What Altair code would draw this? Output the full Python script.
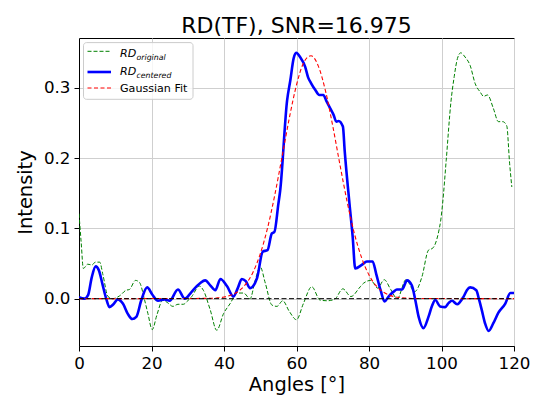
import altair as alt
import pandas as pd

# ---- data ----
blue_angles = [0, 1.5, 2.5, 3.5, 4.6, 5.5, 6.5, 7.5, 8.4, 9.5, 10.7, 12.1, 13.5, 14.7, 15.8, 17.2,
               18.8, 20.2, 21.8, 23.6, 25.0, 27.3, 29.2, 30.5, 31.6, 33.4, 34.8, 36.2, 37.6, 39.0,
               40.8, 42.6, 43.8, 44.9, 46.0, 47.2, 49.1, 50.7, 52.0, 53.2, 53.9, 55.0, 55.5, 57.4,
               58.3, 59.2, 59.9, 61.0, 62.4, 63.2, 64.0, 65.2, 66.3, 67.4, 68.3, 69.3, 70.2, 71.0,
               71.6, 72.8, 73.3, 74.6, 75.5, 76.2, 78.0, 79.4, 81.0, 82.0, 83.2, 84.3, 85.4, 86.8,
               87.7, 89.1, 90.5, 91.8, 92.7, 93.7, 95.0, 96.4, 97.4, 98.3, 99.6, 101.0, 102.0,
               102.9, 104.3, 106.1, 107.0, 107.9, 109.6, 110.3, 111.1, 112.0, 113.0, 114.3, 115.7,
               117.6, 119.0, 120.0]
blue_values = [0.002, 0.000, 0.005, 0.030, 0.046, 0.040, 0.020, 0.000, -0.012, -0.008, -0.001,
               -0.007, -0.022, -0.029, -0.026, -0.002, 0.016, 0.006, -0.003, -0.001, -0.003, 0.013,
               0.000, 0.006, 0.013, 0.022, 0.026, 0.019, 0.012, 0.028, 0.018, 0.003, 0.015, 0.028,
               0.025, 0.015, 0.029, 0.067, 0.069, 0.093, 0.095, 0.135, 0.154, 0.282, 0.311, 0.342,
               0.350, 0.344, 0.330, 0.315, 0.307, 0.297, 0.290, 0.290, 0.281, 0.271, 0.262, 0.252,
               0.253, 0.245, 0.210, 0.136, 0.088, 0.043, 0.048, 0.053, 0.053, 0.035, 0.012, -0.004,
               0.003, 0.010, 0.013, 0.013, 0.026, 0.019, 0.000, -0.026, -0.042, -0.026, -0.010,
               -0.002, -0.011, -0.012, -0.006, -0.003, -0.008, 0.003, 0.012, 0.016, 0.012, 0.000,
               -0.016, -0.035, -0.046, -0.035, -0.020, -0.007, 0.008, 0.008]

green_angles = [0, 0.6, 1.2, 2.4, 3.6, 4.5, 5.7, 6.6, 8.0, 9.3, 11.2, 13.0, 13.9, 15.6, 16.7, 18.1,
                19.0, 20.2, 21.5, 23.1, 24.5, 25.9, 27.3, 28.8, 29.8, 31.1, 33.2, 34.3, 36.2, 38.0,
                39.9, 41.7, 43.6, 45.4, 47.2, 48.6, 50.0, 51.4, 53.2, 54.6, 56.2, 58.0, 60.0, 61.9,
                64.2, 66.5, 68.4, 70.5, 72.8, 75.0, 77.6, 78.5, 80.5, 82.4, 84.2, 86.0, 87.8, 90.2,
                92.6, 94.6, 96.4, 97.6, 99.2, 99.8, 100.3, 101.3, 102.6, 103.5, 104.4, 105.3, 106.5,
                107.9, 109.3, 110.7, 111.6, 112.7, 114.3, 115.7, 116.9, 118.0, 118.8, 119.4]
green_values = [0.121, 0.080, 0.043, 0.049, 0.048, 0.052, 0.052, 0.034, 0.003, 0.000, 0.004, 0.012,
                0.013, 0.026, 0.023, -0.002, -0.021, -0.044, -0.023, -0.002, -0.006, -0.011, -0.008,
                -0.008, -0.004, 0.003, 0.018, 0.012, -0.016, -0.045, -0.021, -0.007, 0.008, 0.008,
                0.000, 0.026, 0.045, 0.022, -0.009, -0.011, -0.003, -0.018, -0.030, -0.007, 0.017,
                -0.002, -0.003, -0.001, 0.014, 0.003, 0.017, 0.022, 0.026, 0.015, 0.027, 0.013, 0.000,
                0.027, 0.010, 0.031, 0.069, 0.072, 0.095, 0.112, 0.135, 0.197, 0.280, 0.316, 0.342,
                0.350, 0.344, 0.332, 0.306, 0.294, 0.288, 0.290, 0.271, 0.252, 0.252, 0.246, 0.192,
                0.159]

fit_angles = [0, 36, 38, 40, 42, 44, 46, 48, 50, 52, 54, 56, 58, 60, 62, 64, 66, 68, 70, 72, 74,
              76, 78, 80, 82, 84, 86, 88, 90, 92, 120]
fit_values = [0, 0.0004, 0.001, 0.0023, 0.0051, 0.0106, 0.0207, 0.0376, 0.0637, 0.1003, 0.1473,
              0.2015, 0.2566, 0.3043, 0.3362, 0.3459, 0.3314, 0.2958, 0.2459, 0.1903, 0.1372,
              0.0921, 0.0577, 0.0336, 0.0182, 0.0092, 0.0043, 0.0019, 0.0008, 0.0003, 0]

zero_angles = [0, 120]
zero_values = [0, 0]

x_ticks = [0, 20, 40, 60, 80, 100, 120]
y_ticks = [0.0, 0.1, 0.2, 0.3]

title_text = "RD(TF), SNR=16.975"
FONT = "DejaVu Sans"

XS = alt.Scale(domain=[0, 120], nice=False, zero=False)
YS = alt.Scale(domain=[-0.0674, 0.3711], nice=False, zero=False)
XA = alt.Axis(title="Angles [°]", values=x_ticks, format="d", grid=True,
              labelFlush=False, labelOverlap=False, labelBound=False)
YA = alt.Axis(title="Intensity", values=y_ticks, format=".1f", grid=True,
              labelFlush=False, labelOverlap=False)


def series(angles, values, color, width, dash=None, interp="monotone"):
    df = pd.DataFrame({"angle": angles, "value": values})
    kw = dict(color=color, strokeWidth=width, interpolate=interp, clip=True)
    if dash:
        kw["strokeDash"] = dash
    return alt.Chart(df).mark_line(**kw).encode(
        x=alt.X("angle:Q", scale=XS, axis=XA),
        y=alt.Y("value:Q", scale=YS, axis=YA),
    )


green = series(green_angles, green_values, "#008000", 1.0, [4, 2])
blue = series(blue_angles, blue_values, "#0000ff", 2.6)
red = series(fit_angles, fit_values, "#ff0000", 1.1, [4, 2.5])
zero = series(zero_angles, zero_values, "black", 1.0, [5, 2.5], "linear")

one = pd.DataFrame({"a": [0]})

legend_box = alt.Chart(one).mark_rect(
    fill="white", fillOpacity=0.8, stroke="#cccccc", strokeWidth=1, cornerRadius=3
).encode(x=alt.value(4.5), x2=alt.value(114), y=alt.value(4.6), y2=alt.value(61.3))


def handle(color, y, width, dash=None):
    kw = dict(color=color, strokeWidth=width)
    if dash:
        kw["strokeDash"] = dash
    return alt.Chart(one).mark_rule(**kw).encode(
        x=alt.value(8.5), x2=alt.value(32), y=alt.value(y)
    )


def txt(t, x, y, size, style="normal", align="left", baseline="alphabetic"):
    return alt.Chart(one).mark_text(
        text=t, font=FONT, fontSize=size, fontStyle=style, align=align,
        baseline=baseline, color="black"
    ).encode(x=alt.value(x), y=alt.value(y))


legend_layers = [
    legend_box,
    handle("#008000", 13.3, 1.0, [4, 2]),
    handle("#0000ff", 34.0, 2.6),
    handle("#ff0000", 50.0, 1.1, [4, 2.5]),
    txt("RD", 41, 19.0, 11.1, "italic"),
    txt("original", 57.5, 21.5, 7.8, "italic"),
    txt("RD", 41, 37.3, 11.1, "italic"),
    txt("centered", 57.5, 39.8, 7.8, "italic"),
    txt("Gaussian Fit", 41, 53.8, 11.1),
]

title = txt(title_text, 217.5, -5.5, 22, align="center")

chart = alt.layer(green, blue, red, zero, *legend_layers, title).properties(
    width=435,
    height=308,
    autosize=alt.AutoSizeParams(type="none"),
    padding={"left": 79, "top": 38, "right": 19, "bottom": 49},
).configure_view(
    stroke="black", strokeWidth=1
).configure_axis(
    labelFont=FONT, labelFontSize=16.7, labelColor="black", labelPadding=4,
    titleFont=FONT, titleFontSize=19.4, titleFontWeight="normal", titleColor="black",
    tickColor="black", tickSize=5, tickWidth=1, domainColor="black", domainWidth=1,
    gridColor="#cfcfcf", gridWidth=1,
).configure_axisX(titlePadding=4).configure_axisY(titlePadding=8)

chart.save("out.html", embed_options={"renderer": "svg", "actions": False})
